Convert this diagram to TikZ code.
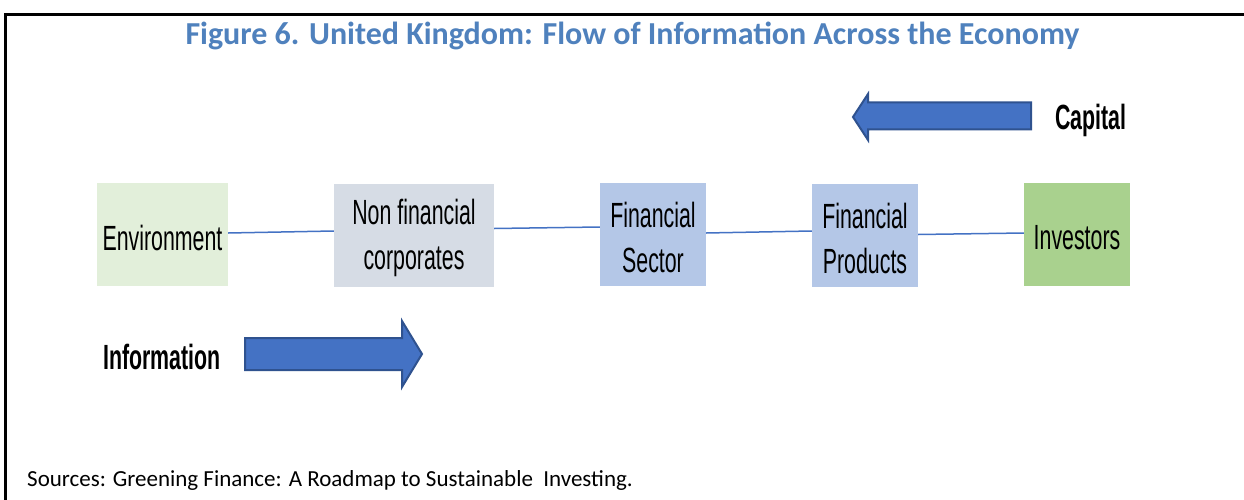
\documentclass[tikz,border=0pt]{standalone}
\usepackage{fontspec}
\newfontfamily\narrowf[FakeStretch=0.61]{Liberation Sans}
\newfontfamily\calib{Carlito}
\definecolor{titleblue}{HTML}{4F81BD}
\definecolor{linkblue}{HTML}{4472C4}
\definecolor{arrowedge}{HTML}{2F528F}
\definecolor{envgreen}{HTML}{E2EFDA}
\definecolor{nfcgrey}{HTML}{D6DCE5}
\definecolor{finblue}{HTML}{B4C7E7}
\definecolor{invgreen}{HTML}{A9D18E}
\begin{document}
\begin{tikzpicture}[x=1pt,y=-1pt,
  box/.style={rectangle, inner sep=0pt, minimum height=103pt},
  boxtext/.style={inner sep=0pt, align=center, yshift=-3pt,
    font=\narrowf\fontsize{35}{45}\selectfont},
  link/.style={draw=linkblue, line width=1.5pt},
  bigarrow/.style={fill=linkblue, draw=arrowedge, line width=2pt, line join=miter},
  flowlabel/.style={anchor=base west, inner sep=0pt, font=\narrowf\bfseries\fontsize{35}{42}\selectfont}]
\useasboundingbox (0,0) rectangle (1244,500);
\fill[white] (0,0) rectangle (1244,500);
\draw[line width=3pt] (5.5,500) -- (5.5,14.7) -- (1244,14.7);

\node[anchor=base, inner sep=0pt, text=titleblue, font=\calib\bfseries\fontsize{32}{36}\selectfont]
  (title) at (632.5,45) {Figure 6. United Kingdom: Flow of Information Across the Economy};

\node[box, fill=envgreen, minimum width=131pt] (env) at (162.5,234.5) {};
\node[box, fill=nfcgrey, minimum width=160pt] (nfc) at (414,235) {};
\node[box, fill=finblue, minimum width=106pt] (fs) at (653,234.5) {};
\node[box, fill=finblue, minimum width=106pt] (fp) at (865,235) {};
\node[box, fill=invgreen, minimum width=106pt] (inv) at (1077,234.5) {};

\node[boxtext] (envtext) at (env.center) {Environment};
\node[boxtext] (nfctext) at (nfc.center) {Non financial\\corporates};
\node[boxtext] (fstext) at (fs.center) {Financial\\Sector};
\node[boxtext] (fptext) at (fp.center) {Financial\\Products};
\node[boxtext] (invtext) at (inv.center) {Investors};

\draw[link] ([shift={(0,-1.5)}]env.east) -- ([shift={(0,-4)}]nfc.west);
\draw[link] ([shift={(0,-6.5)}]nfc.east) -- ([shift={(0,-7.5)}]fs.west);
\draw[link] ([shift={(0,-1.5)}]fs.east) -- ([shift={(0,-4)}]fp.west);
\draw[link] ([shift={(0,-0.5)}]fp.east) -- ([shift={(0,-1.5)}]inv.west);

\draw[bigarrow] (853,117) -- (868,94) -- (868,102.5) -- (1031,102.5) -- (1031,129.5)
  -- (868,129.5) -- (868,140) -- cycle;
\node[flowlabel] (capital) at (1055,129) {Capital};

\draw[bigarrow] (245,338) -- (402,338) -- (402,321) -- (422,354) -- (402,387)
  -- (402,370) -- (245,370) -- cycle;
\node[flowlabel] (information) at (103,369) {Information};

\node[anchor=base west, inner sep=0pt, font=\calib\fontsize{23}{28}\selectfont]
  (sources) at (27,486) {Sources: Greening Finance: A Roadmap to Sustainable\ \ Investing.};
\end{tikzpicture}
\end{document}
